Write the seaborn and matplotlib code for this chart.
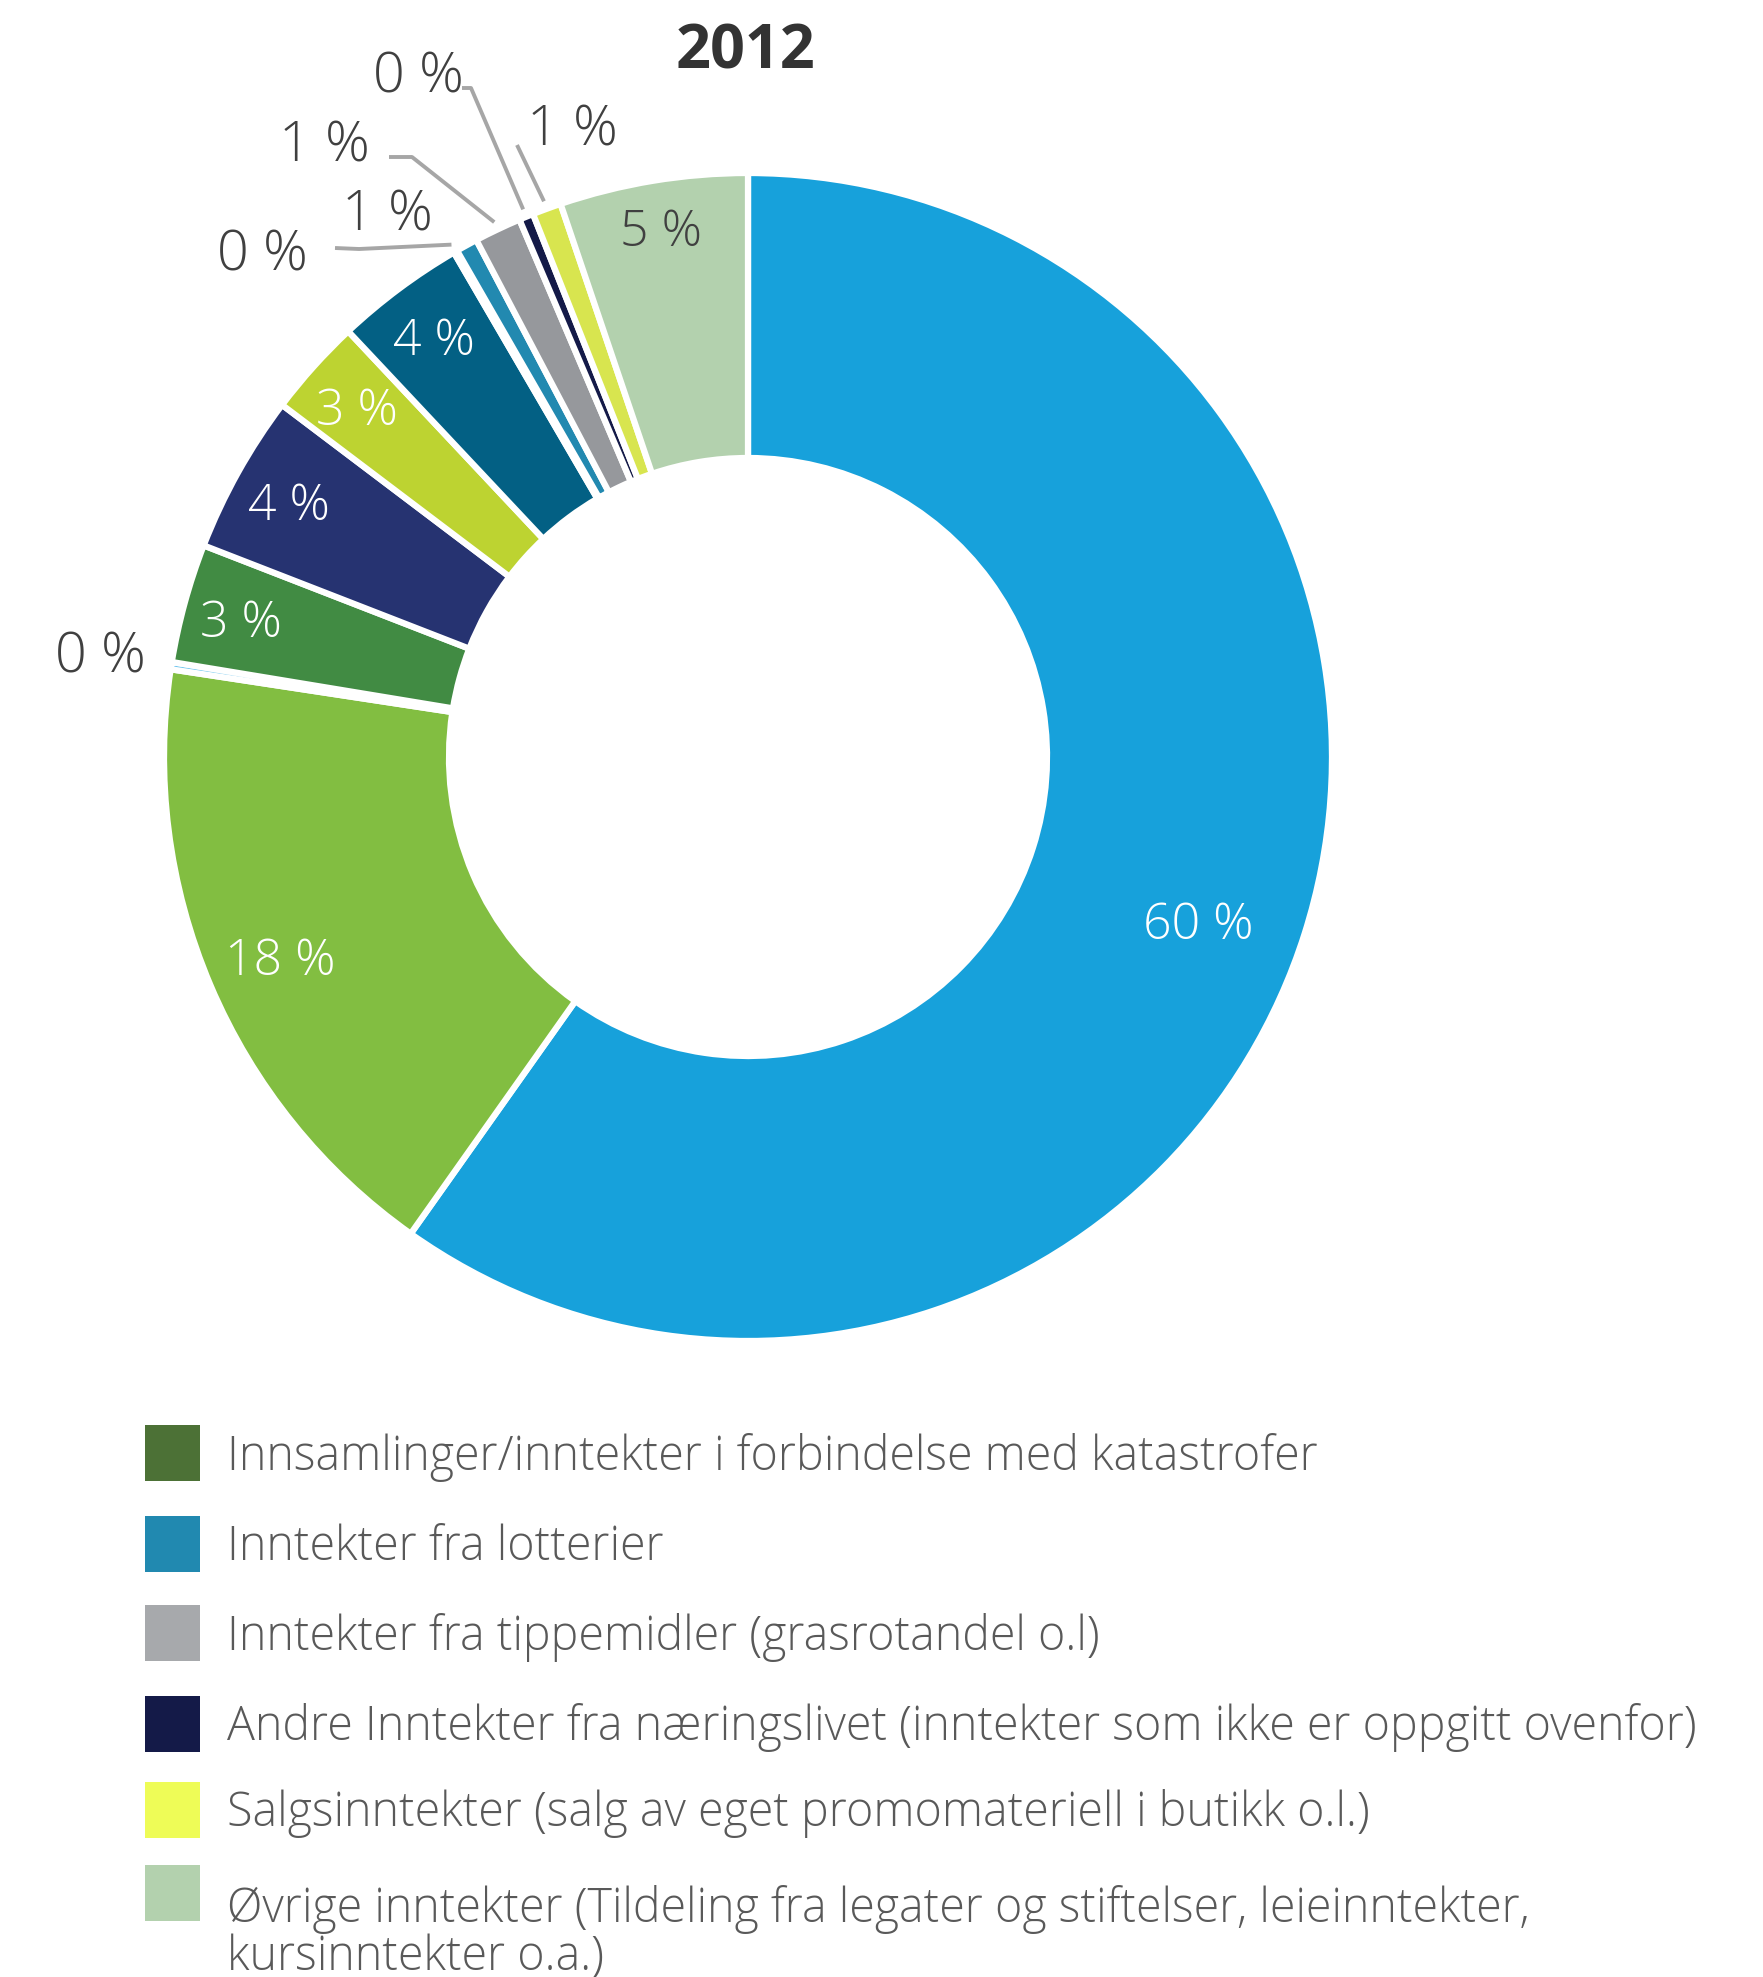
import matplotlib
matplotlib.use("Agg")
import matplotlib.pyplot as plt
import seaborn as sns
import numpy as np
from matplotlib.patches import Rectangle

sns.set_theme(style="white")
plt.rcParams['font.family'] = ['Open Sans', 'DejaVu Sans']

# ---------------- data ----------------
title = "2012"
slice_values = [59.8, 17.6, 0.2, 3.3, 4.4, 2.7, 3.6, 0.1, 0.6, 1.3, 0.4, 0.8, 5.2]
slice_labels = ["60 %", "18 %", "0 %", "3 %", "4 %", "3 %", "4 %", "0 %", "1 %", "1 %", "0 %", "1 %", "5 %"]
slice_colors = ["#17a1db", "#82be41", "#6cc4ee", "#418b43", "#263371", "#bdd331",
                "#036084", "#4c7136", "#2289b0", "#96989c", "#141a48", "#d8e54f", "#b3d1ae"]

legend_labels = [
    "Innsamlinger/inntekter i forbindelse med katastrofer",
    "Inntekter fra lotterier",
    "Inntekter fra tippemidler (grasrotandel o.l)",
    "Andre Inntekter fra næringslivet (inntekter som ikke er oppgitt ovenfor)",
    "Salgsinntekter (salg av eget promomateriell i butikk o.l.)",
    "Øvrige inntekter (Tildeling fra legater og stiftelser, leieinntekter,\nkursinntekter o.a.)",
]
legend_colors = ["#4c7136", "#2189b0", "#a7a9ac", "#141a48", "#eefc57", "#b3d1ae"]

# ---------------- layout ----------------
W, H = 1763, 1977
fig = plt.figure(figsize=(W / 100, H / 100), dpi=100)
ax = fig.add_axes([0, 0, 1, 1])

def Y(y):
    return H - y

cx, cy = 748, Y(757)
R_out, R_in = 584, 299

wedges, _ = ax.pie(slice_values, colors=slice_colors, startangle=90, counterclock=False,
                   center=(cx, cy), radius=R_out, frame=True,
                   wedgeprops=dict(width=R_out - R_in, edgecolor="white", linewidth=4.5))
ax.set_xlim(0, W)
ax.set_ylim(0, H)
ax.set_aspect("equal")
ax.axis("off")

dy = 6  # text baseline correction

ax.text(745, Y(53), title, ha="center", va="center", fontsize=44, fontweight="bold", color="#333333")

# inside labels: (slice index, radial factor, color)
inside = [(0, 0.82, "white"), (1, 0.87, "white"), (3, 0.9, "white"), (4, 0.9, "white"),
          (5, 0.9, "white"), (6, 0.9, "white"), (12, 0.92, "#404040")]
for i, rf, col in inside:
    w = wedges[i]
    th = np.deg2rad((w.theta1 + w.theta2) / 2)
    if i == 0:
        th -= np.deg2rad(2.3)
    ax.text(cx + rf * R_out * np.cos(th), cy + rf * R_out * np.sin(th) - dy, slice_labels[i],
            ha="center", va="center", fontsize=36, color=col, fontweight="light")

# outside labels: (slice index, text pos, elbow points)
outside = [
    (2, (100, 652), None),
    (7, (262, 250), [(335, 248), (359, 249)]),
    (8, (387, 210), None),
    (9, (324, 141), [(389, 157), (412, 157)]),
    (10, (418, 72), [(462, 88), (471, 88)]),
    (11, (572, 125), [(517, 145)]),
]
lc = "#a6a6a6"
for i, (tx, ty), elbow in outside:
    ax.text(tx, Y(ty + dy), slice_labels[i], ha="center", va="center", fontsize=40,
            color="#404040", fontweight="light")
    if elbow:
        w = wedges[i]
        th = np.deg2rad((w.theta1 + w.theta2) / 2)
        ex, ey = cx + (R_out + 8) * np.cos(th), cy + (R_out + 8) * np.sin(th)
        xs = [p[0] for p in elbow] + [ex]
        ys = [Y(p[1]) for p in elbow] + [ey]
        ax.plot(xs, ys, color=lc, lw=2.8, solid_capstyle="butt")

# legend
row_y = [1453, 1544, 1633, 1724, 1810, 1893]
for lab, col, yc in zip(legend_labels, legend_colors, row_y):
    ax.add_patch(Rectangle((145, Y(yc) - 28), 55, 56, facecolor=col, edgecolor="none"))
    if "\n" in lab:
        ax.text(227, Y(yc - 8), lab, ha="left", va="top",
                fontsize=33.5, color="#595959", fontweight="light", linespacing=1.0)
    else:
        ax.text(227, Y(yc + 4), lab, ha="left", va="center",
                fontsize=33.5, color="#595959", fontweight="light")

fig.savefig("out.png", dpi=100, facecolor="white")
